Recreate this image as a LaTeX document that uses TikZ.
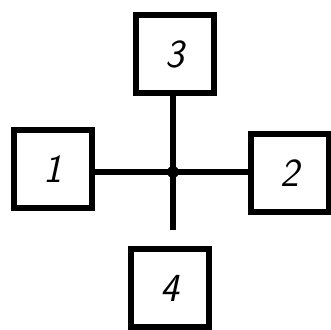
\documentclass[tikz,border=0pt]{standalone}
\usepackage{tikz}
\usetikzlibrary{calc}

\begin{document}
\begin{tikzpicture}[
			font=\fontsize{34}{34}\selectfont\sffamily\itshape,
			unitbox/.style={draw, line width=5.5pt, minimum width=2.33cm, minimum height=2.33cm, inner sep=0pt},
			link/.style={line width=4.6pt},
			joint/.style={circle, fill, inner sep=0pt, minimum size=0.36cm}
			]
			
			% Frame
			\useasboundingbox (0,0) rectangle (9.93,9.87);
			
			% Units
			\node[unitbox] (unit3) at (5.25,8.25) {3};
			\node[unitbox] (unit1) at (1.59,4.8) {1};
			\node[unitbox] (unit2) at (8.70,4.68) {2};
			\node[unitbox] (unit4) at (5.10,1.23) {4};
			
			% Junction
			\coordinate (jct) at (5.19,4.71);
			\coordinate (stub) at (5.19,2.97);
			
			% Connections
			\draw[link] (jct -| unit1.east) -- (jct) -- (jct -| unit2.west);
			\draw[link] (jct |- unit3.south) -- (jct) -- (stub);
			\node[joint] (dot) at (jct) {};
			
		\end{tikzpicture}
\end{document}
